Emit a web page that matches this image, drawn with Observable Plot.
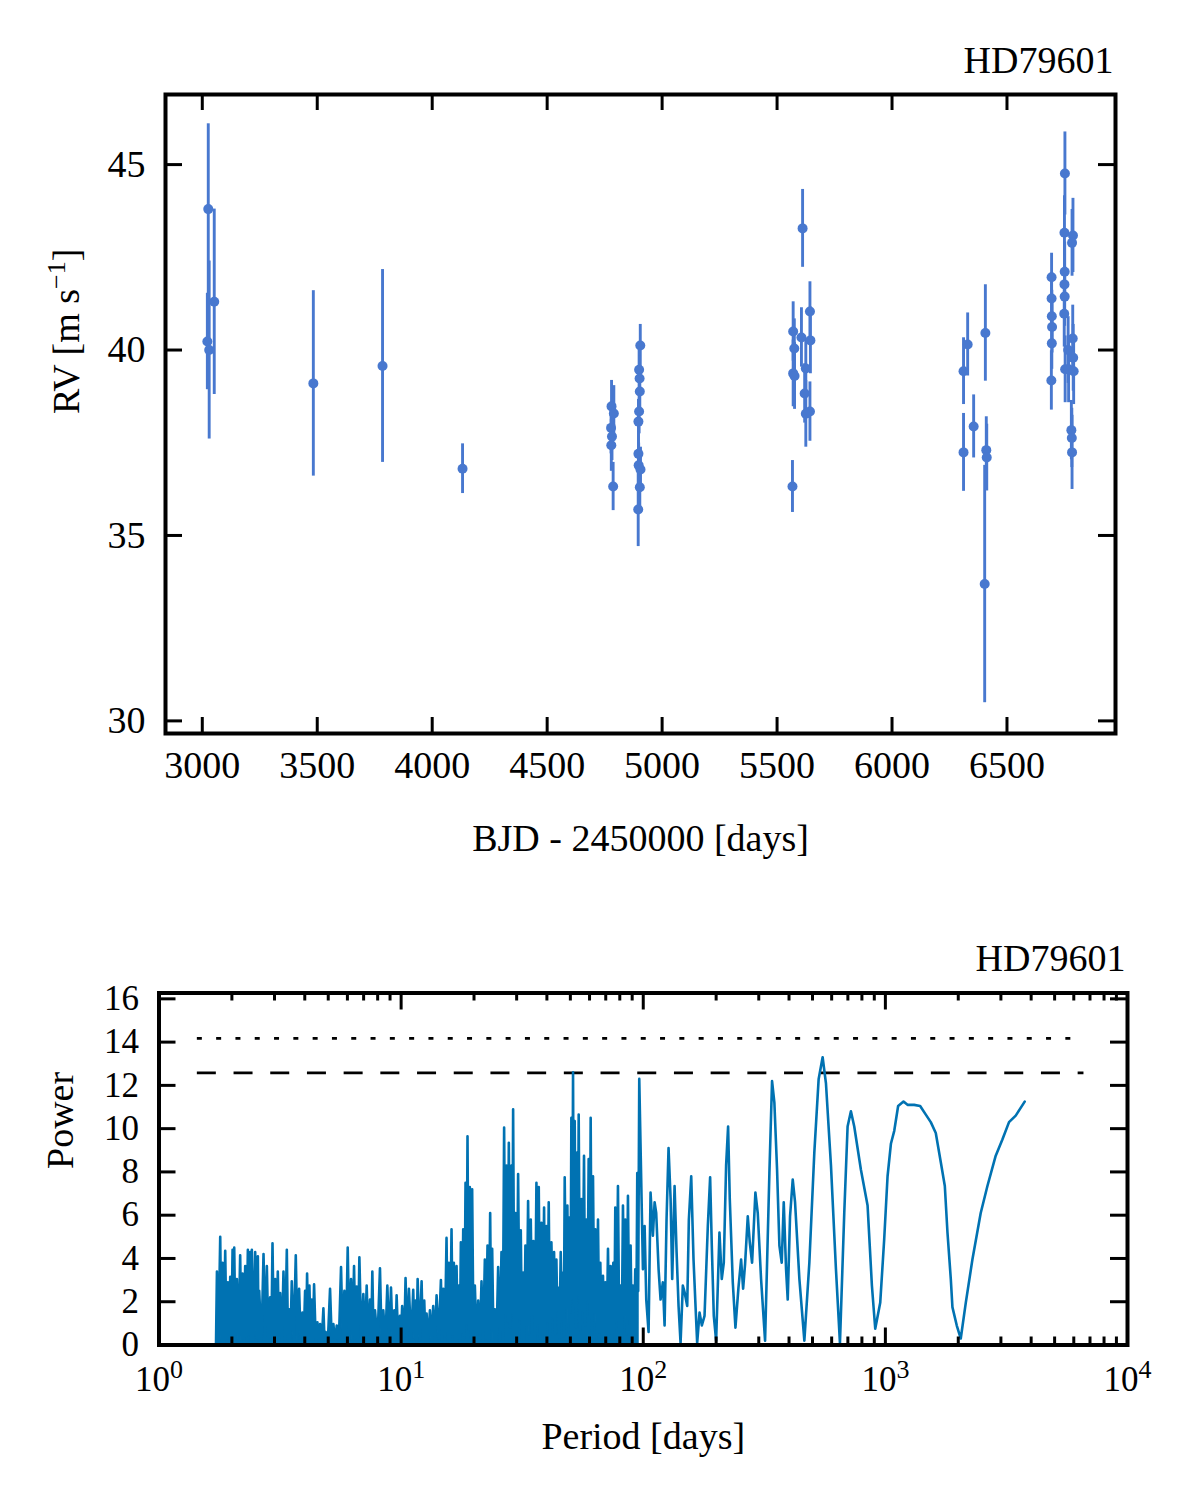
<!DOCTYPE html>
<html>
<head>
<meta charset="utf-8">
<script src="https://cdn.jsdelivr.net/npm/d3@7"></script>
<script src="https://cdn.jsdelivr.net/npm/@observablehq/plot@0.6"></script>
<style>
  body { margin: 0; background: white; }
  #chart svg { display: block; }
</style>
</head>
<body>
<div id="chart"></div>
<script>
// ---- RV data: [BJD - 2450000, RV (m/s), error (m/s)]
const rvEarly = [
  [3022, 40.23, 1.3], [3026, 43.80, 2.3], [3030, 40.00, 2.4], [3052, 41.30, 2.5],
  [3483, 39.10, 2.5], [3784, 39.57, 2.6], [4132, 36.80, 0.67]
];
const rv4800 = [
  [4780, 38.48, 0.7], [4790, 38.29, 0.75], [4778, 37.90, 0.7], [4782, 37.67, 0.65],
  [4779, 37.43, 0.7], [4787, 36.32, 0.65],
  [4905, 40.12, 0.57], [4900, 39.47, 0.6], [4902, 39.23, 0.6], [4903, 38.88, 0.6],
  [4900, 38.34, 0.6], [4897, 38.07, 0.6], [4897, 37.20, 0.6], [4898, 36.89, 0.6],
  [4906, 36.78, 0.6], [4903, 36.30, 0.6], [4896, 35.70, 1.0]
];
const rv5600 = [
  [5570, 40.50, 0.8], [5575, 40.04, 0.8], [5570, 39.37, 0.9], [5576, 39.30, 0.9],
  [5567, 36.32, 0.7], [5611, 43.28, 1.05], [5643, 41.04, 0.8], [5606, 40.34, 0.8],
  [5645, 40.26, 0.9], [5625, 39.50, 0.8], [5620, 38.83, 0.8], [5625, 38.28, 0.9],
  [5643, 38.34, 0.8]
];
const rv6350 = [
  [6311, 39.43, 0.9], [6329, 40.15, 0.85], [6311, 37.24, 1.05], [6355, 37.94, 0.85],
  [6406, 40.46, 1.3], [6410, 37.30, 0.9], [6412, 37.10, 0.9], [6403, 33.69, 3.2]
];
const rv6750 = [
  [6694, 41.96, 0.65], [6694, 41.39, 0.7], [6695, 40.91, 0.7], [6696, 40.62, 0.7],
  [6695, 40.18, 0.7], [6693, 39.18, 0.8], [6752, 44.76, 1.12], [6750, 43.16, 1.0],
  [6751, 42.11, 0.8], [6750, 41.77, 0.8], [6751, 41.44, 0.8], [6749, 40.98, 0.9],
  [6753, 39.48, 0.9], [6768, 39.48, 0.9], [6766, 40.00, 0.9], [6787, 43.09, 1.0],
  [6783, 42.89, 0.9], [6786, 40.31, 0.9], [6788, 39.79, 0.9], [6790, 39.43, 0.9],
  [6780, 37.84, 0.8], [6782, 37.63, 0.8], [6783, 37.24, 1.0]
];

// ---- periodogram: [period (days), power]
const pgShort = [
  [1.72, 0.1], [1.735, 3.4], [1.76, 0.1], [1.79, 5.0], [1.81, 0.2], [1.83, 3.8], [1.853, 0.1], [1.877, 4.35],
  [1.90, 0.3], [1.925, 2.9], [1.947, 0.1], [1.969, 3.15], [1.99, 0.2], [2.013, 4.4], [2.03, 0.4], [2.045, 4.5],
  [2.07, 0.1], [2.097, 3.05], [2.13, 0.2], [2.164, 4.15], [2.19, 0.1], [2.213, 3.3], [2.24, 0.3], [2.27, 3.65],
  [2.30, 0.1], [2.328, 4.4], [2.355, 0.5], [2.38, 4.3], [2.40, 0.2], [2.418, 4.4], [2.457, 0.1], [2.496, 4.3],
  [2.53, 0.3], [2.56, 4.1], [2.577, 0.2], [2.593, 2.5], [2.65, 0.1], [2.702, 4.2], [2.745, 0.4], [2.789, 3.65],
  [2.83, 0.1], [2.878, 2.2], [2.91, 0.2], [2.943, 4.7], [2.98, 0.2], [3.018, 3.05], [3.055, 0.1], [3.095, 3.4],
  [3.13, 0.3], [3.165, 2.4], [3.215, 0.1], [3.267, 3.4], [3.32, 0.2], [3.372, 4.4], [3.41, 0.1], [3.447, 1.65],
  [3.49, 0.2], [3.535, 2.95], [3.60, 0.1], [3.672, 4.15], [3.73, 0.2], [3.79, 2.6], [3.85, 0.1], [3.912, 1.5],
  [3.96, 0.2], [4.012, 2.5], [4.05, 0.1], [4.089, 3.3], [4.135, 0.3], [4.181, 2.75], [4.23, 0.1], [4.275, 2.1],
  [4.32, 0.2], [4.37, 2.8], [4.44, 0.1], [4.511, 1.05], [4.57, 0.2], [4.627, 0.97], [4.70, 0.1], [4.775, 1.7],
  [4.83, 0.1], [4.882, 0.6], [4.98, 0.1], [5.087, 2.6], [5.17, 0.2], [5.252, 0.97], [5.335, 0.1], [5.42, 0.9],
  [5.53, 0.1], [5.647, 3.6], [5.74, 0.2], [5.829, 2.5], [5.92, 0.1], [6.017, 4.5], [6.11, 0.2], [6.211, 3.05],
  [6.30, 0.1], [6.391, 3.65], [6.47, 0.3], [6.555, 2.7], [6.64, 0.1], [6.723, 4.05], [6.85, 0.2], [6.982, 2.35],
  [7.09, 0.1], [7.207, 2.75], [7.32, 0.2], [7.438, 2.1], [7.52, 0.1], [7.605, 3.4], [7.70, 0.1], [7.80, 1.6],
  [7.99, 0.2], [8.178, 3.55], [8.31, 0.1], [8.442, 1.6], [8.61, 0.1], [8.77, 2.75], [8.93, 0.2], [9.082, 2.65],
  [9.23, 0.1], [9.371, 1.6], [9.48, 0.2], [9.581, 2.3], [9.73, 0.1], [9.89, 1.35], [9.97, 0.2]
];
const pgMid = [
  [10.1, 1.8], [10.3, 0.1], [10.43, 3.1], [10.6, 0.2], [10.77, 2.6], [11.0, 0.1], [11.22, 2.55], [11.35, 0.3],
  [11.48, 2.05], [11.59, 0.1], [11.70, 3.05], [11.92, 0.2], [12.15, 2.95], [12.3, 0.1], [12.46, 2.05], [12.6, 0.2],
  [12.74, 1.45], [12.95, 0.1], [13.15, 1.6], [13.36, 0.2], [13.57, 1.8], [13.79, 0.1], [14.01, 2.3], [14.3, 0.3],
  [14.60, 3.0], [14.77, 0.2], [14.93, 2.6], [15.17, 0.4], [15.40, 4.95], [15.58, 0.2], [15.75, 3.8], [15.95, 0.1],
  [16.15, 5.35], [16.33, 0.5], [16.51, 3.8], [16.72, 0.2], [16.94, 3.65], [17.13, 0.3], [17.32, 2.75], [17.49, 0.1],
  [17.65, 4.75], [17.85, 0.6], [18.05, 5.35], [18.25, 0.3], [18.45, 7.5], [18.62, 1.0], [18.80, 9.65], [19.0, 0.7],
  [19.22, 7.3], [19.43, 0.3], [19.65, 7.2], [19.9, 0.2], [20.16, 2.75], [20.5, 0.1], [20.81, 2.05], [21.15, 0.2],
  [21.48, 2.95], [21.82, 0.1], [22.17, 3.95], [22.45, 0.3], [22.74, 4.6], [23.03, 0.2], [23.32, 6.1], [23.55, 0.8],
  [23.77, 4.45], [24.07, 0.1], [24.38, 1.65], [24.77, 0.1], [25.16, 3.6], [25.56, 0.2], [25.97, 4.3], [26.3, 0.1],
  [26.63, 10.05], [26.93, 1.5], [27.23, 8.3], [27.54, 1.1], [27.85, 9.35], [28.2, 0.8], [28.56, 8.3], [28.78, 1.5],
  [29.01, 10.9], [29.34, 0.6], [29.67, 6.1], [30.04, 0.4], [30.42, 7.9], [30.81, 1.2], [31.20, 5.3], [31.55, 0.3],
  [31.90, 3.35], [32.25, 0.1], [32.61, 4.6], [33.03, 0.9], [33.45, 6.65], [33.88, 0.5], [34.31, 5.8], [34.75, 1.4],
  [35.19, 4.8], [35.7, 0.2], [36.21, 7.5], [36.6, 1.0], [37.02, 7.3], [37.5, 0.3], [37.97, 5.65], [38.45, 0.6],
  [38.94, 6.35], [39.37, 0.2], [39.81, 5.5], [40.25, 1.1], [40.70, 6.6], [41.2, 0.4], [41.75, 4.75], [42.3, 1.3],
  [42.82, 4.3], [43.3, 0.5], [43.78, 3.95], [44.13, 1.6], [44.48, 2.65], [45.05, 0.3], [45.62, 4.3], [46.13, 1.2],
  [46.64, 3.35], [47.0, 0.4], [47.38, 7.75], [48.0, 1.8], [48.60, 6.45], [49.15, 0.6], [49.69, 5.9], [50.08, 1.5],
  [50.48, 10.5], [50.88, 2.2], [51.29, 12.6], [51.7, 1.9], [52.11, 10.35], [52.7, 0.8], [53.28, 8.9], [53.7, 2.4],
  [54.12, 10.65], [54.8, 0.7], [55.51, 6.75], [56.2, 1.6], [56.93, 8.75], [57.57, 0.9], [58.21, 5.8], [58.86, 2.1],
  [59.51, 8.6], [60.08, 1.3], [60.65, 10.5], [61.33, 0.5], [62.01, 7.8], [62.7, 1.5], [63.41, 5.35], [64.2, 0.3],
  [65.03, 5.8], [65.76, 0.6], [66.49, 3.8], [67.3, 0.2], [68.19, 3.2], [68.95, 0.4], [69.72, 2.9], [70.6, 0.1],
  [71.51, 4.45], [72.4, 0.5], [73.34, 3.65], [74.3, 0.1], [75.22, 3.8], [75.93, 0.6], [76.65, 6.35], [77.6, 1.1],
  [78.62, 7.35], [79.6, 0.3], [80.63, 2.75], [81.5, 0.2], [82.45, 6.45], [83.4, 1.4], [84.29, 5.8], [85.4, 0.5],
  [86.46, 6.9], [87.5, 1.2], [88.67, 4.6], [89.7, 0.2], [90.66, 2.75], [91.7, 0.4], [92.69, 3.5], [93.6, 0.6],
  [94.47, 7.95], [95.3, 2.5], [96.27, 12.3]
];
const pgLong = [
  [99.7, 3.5], [101.3, 5.5], [102.9, 2.1], [105.2, 0.6], [107.2, 7.05], [109.6, 5.05], [111.4, 6.6], [113.1, 6.1],
  [115.7, 3.5], [117.9, 2.1], [120.5, 2.9], [122.5, 0.9], [124.8, 5.8], [127.2, 9.1], [129.7, 6.75], [131.7, 3.05],
  [134.7, 7.35], [137.3, 4.3], [139.9, 1.8], [142.6, 0.1], [145.7, 2.75], [148.1, 2.45], [151.9, 1.8], [154.3, 5.8],
  [157.8, 7.8], [161.3, 3.95], [164.4, 1.8], [167.0, 0.1], [170.8, 1.5], [174.6, 0.9], [179.1, 1.35], [184.8, 5.5],
  [188.9, 7.75], [191.9, 4.6], [195.6, 1.35], [200.0, 0.2], [206.4, 5.2], [211.0, 3.05], [215.1, 3.8], [219.9, 8.3],
  [224.1, 10.1], [227.7, 6.75], [234.3, 2.9], [240.3, 0.8], [247.3, 2.65], [253.6, 3.95], [258.5, 2.6], [263.4, 3.75],
  [270.2, 5.95], [275.4, 4.75], [281.5, 3.8], [290.5, 7.05], [297.1, 6.1], [306.6, 3.05], [318.5, 0.2], [331.9, 7.95],
  [340.4, 12.2], [348.0, 11.2], [357.0, 8.1], [365.0, 4.6], [373.2, 3.8], [380.4, 6.6], [388.9, 3.5], [395.1, 2.1],
  [403.9, 5.95], [414.3, 7.65], [423.6, 6.6], [441.4, 3.05], [462.8, 0.2], [485.3, 3.8], [508.8, 8.9], [530.2, 12.3],
  [550.6, 13.3], [568.3, 12.1], [596.0, 8.3], [625.0, 3.5], [649.2, 0.1], [676.4, 6.1], [698.2, 10.1], [720.6, 10.8],
  [743.8, 10.1], [792.5, 8.1], [844.3, 6.45], [879.7, 2.75], [908.1, 0.75], [952.1, 1.95], [989, 4.9], [1021, 7.8],
  [1054, 9.3], [1088, 9.9], [1129, 11.05], [1188, 11.25], [1234, 11.1], [1315, 11.1], [1392, 11.05], [1469, 10.65],
  [1540, 10.3], [1615, 9.8], [1694, 8.45], [1760, 7.35], [1805, 5.2], [1863, 3.05], [1892, 1.75], [1972, 0.9],
  [2048, 0.3], [2148, 1.95], [2288, 3.95], [2476, 6.1], [2639, 7.35], [2856, 8.75], [3043, 9.5], [3241, 10.3],
  [3454, 10.6], [3762, 11.25]
];

// false alarm levels (power) and the period span they are drawn over
const fapDotted = 14.17;
const fapDashed = 12.58;
const fapSpan = [1.44, 6610];

// ticks and labels
const bjdTicks = [3000, 3500, 4000, 4500, 5000, 5500, 6000, 6500];
const rvTicks = [30, 35, 40, 45];
const periodTicks = [1, 10, 100, 1000, 10000];
const periodMinor = [2, 3, 4, 5, 6, 7, 8, 9, 20, 30, 40, 50, 60, 70, 80, 90,
  200, 300, 400, 500, 600, 700, 800, 900, 2000, 3000, 4000, 5000, 6000, 7000, 8000, 9000];
const powerTicks = [0, 2, 4, 6, 8, 10, 12, 14, 16];
const starName = "HD79601";
const rvXLabel = "BJD - 2450000 [days]";
const rvYLabel = "RV [m s^-1]";
const pgXLabel = "Period [days]";
const pgYLabel = "Power";

// build tables
const rvData = [...rvEarly, ...rv4800, ...rv5600, ...rv6350, ...rv6750]
  .map(([bjd, rv, err]) => ({bjd, rv, err}));
const toRow = ([period, power]) => ({period, power});
const pgDense = [...pgShort, ...pgMid].map(toRow);
const pgData = [...pgShort, ...pgMid, ...pgLong].map(toRow);

const serif = "'Liberation Serif', 'DejaVu Serif', serif";
const rvColor = "#4878CF";
const pgColor = "#0072B2";

// ---- top panel
const W = 1200;
const boxA = {h: 900, t: 94, b: 167, l: 165, r: 85};
const aIH = boxA.h - boxA.t - boxA.b, aIW = W - boxA.l - boxA.r;

const rvPlot = Plot.plot({
  width: W, height: boxA.h,
  marginTop: boxA.t, marginBottom: boxA.b, marginLeft: boxA.l, marginRight: boxA.r,
  style: {fontFamily: serif, fontSize: "38px", color: "black", background: "white", overflow: "visible"},
  x: {domain: [2840, 6972]},
  y: {domain: [29.66, 46.89]},
  marks: [
    Plot.ruleX(rvData, {x: "bjd", y1: d => d.rv - d.err, y2: d => d.rv + d.err, stroke: rvColor, strokeWidth: 2.9}),
    Plot.dot(rvData, {x: "bjd", y: "rv", r: 5, fill: rvColor}),
    Plot.tickX(bjdTicks, {x: d => d, insetTop: aIH - 16, strokeWidth: 3}),
    Plot.tickX(bjdTicks, {x: d => d, insetBottom: aIH - 16, strokeWidth: 3}),
    Plot.tickY(rvTicks, {y: d => d, insetRight: aIW - 17, strokeWidth: 3}),
    Plot.tickY(rvTicks, {y: d => d, insetLeft: aIW - 17, strokeWidth: 3}),
    Plot.frame({strokeWidth: 4}),
    Plot.axisX({ticks: bjdTicks, tickSize: 0, tickPadding: 18, tickFormat: d => `${d}`, label: null, fontSize: 38}),
    Plot.axisY({ticks: rvTicks, tickSize: 0, tickPadding: 20, tickFormat: d => `${d}`, label: null, fontSize: 38}),
    Plot.text([rvXLabel], {text: d => d, frameAnchor: "bottom", dy: 105, lineAnchor: "middle", fontSize: 38}),
    Plot.text([rvYLabel], {text: d => d, frameAnchor: "left", dx: -99, rotate: -90, lineAnchor: "middle", fontSize: 38}),
    Plot.text([starName], {text: d => d, frameAnchor: "top-right", textAnchor: "end", lineAnchor: "bottom", dx: -2, dy: -22, fontSize: 38})
  ]
});

// ---- bottom panel
const boxB = {h: 602, t: 92.5, b: 157.5, l: 158.5, r: 73};
const bIH = boxB.h - boxB.t - boxB.b, bIW = W - boxB.l - boxB.r;

const pgPlot = Plot.plot({
  width: W, height: boxB.h,
  marginTop: boxB.t, marginBottom: boxB.b, marginLeft: boxB.l, marginRight: boxB.r,
  style: {fontFamily: serif, fontSize: "35px", color: "black", background: "white", overflow: "visible"},
  x: {type: "log", domain: [1, 10000]},
  y: {domain: [0, 16.27]},
  marks: [
    Plot.ruleY([fapDotted], {y: d => d, x1: fapSpan[0], x2: fapSpan[1], strokeWidth: 2.8, strokeDasharray: "5,14.3"}),
    Plot.ruleY([fapDashed], {y: d => d, x1: fapSpan[0], x2: fapSpan[1], strokeWidth: 2.8, strokeDasharray: "19,17.7"}),
    // the short-period part is so densely sampled that the line fills its own area
    Plot.areaY(pgDense, {x: "period", y: "power", fill: pgColor}),
    Plot.line(pgData, {x: "period", y: "power", stroke: pgColor, strokeWidth: 2.6}),
    Plot.tickX(periodTicks, {x: d => d, insetTop: bIH - 17, strokeWidth: 3}),
    Plot.tickX(periodTicks, {x: d => d, insetBottom: bIH - 17, strokeWidth: 3}),
    Plot.tickX(periodMinor, {x: d => d, insetTop: bIH - 8, strokeWidth: 3}),
    Plot.tickX(periodMinor, {x: d => d, insetBottom: bIH - 8, strokeWidth: 3}),
    Plot.tickY(powerTicks, {y: d => d, insetRight: bIW - 17, strokeWidth: 3}),
    Plot.tickY(powerTicks, {y: d => d, insetLeft: bIW - 17, strokeWidth: 3}),
    Plot.frame({strokeWidth: 4}),
    Plot.axisX({ticks: periodTicks, tickSize: 0, tickPadding: 21, tickFormat: d => `10^${Math.round(Math.log10(d))}`, label: null, fontSize: 35}),
    Plot.axisY({ticks: powerTicks, tickSize: 0, tickPadding: 20, tickFormat: d => `${d}`, label: null, fontSize: 35}),
    Plot.text([pgXLabel], {text: d => d, frameAnchor: "bottom", dy: 92, lineAnchor: "middle", fontSize: 38}),
    Plot.text([pgYLabel], {text: d => d, frameAnchor: "left", dx: -98, rotate: -90, lineAnchor: "middle", fontSize: 38}),
    Plot.text([starName], {text: d => d, frameAnchor: "top-right", textAnchor: "end", lineAnchor: "bottom", dx: -2, dy: -22, fontSize: 38})
  ]
});

// turn "a^b" into a raised tspan
function superscripts(svg, shift, size) {
  d3.select(svg).selectAll("text").each(function() {
    const m = this.textContent.match(/^(.*?)\^(-?\d+)(.*)$/);
    if (!m) return;
    const t = d3.select(this);
    t.text(m[1]);
    t.append("tspan").attr("dy", -shift).attr("font-size", size).text(m[2].replace("-", "\u2212"));
    if (m[3]) t.append("tspan").attr("dy", shift).text(m[3]);
  });
}
superscripts(rvPlot, 14, 26);
superscripts(pgPlot, 13, 26);

d3.select("#chart").append(() => rvPlot);
d3.select("#chart").append(() => pgPlot);
</script>
</body>
</html>
